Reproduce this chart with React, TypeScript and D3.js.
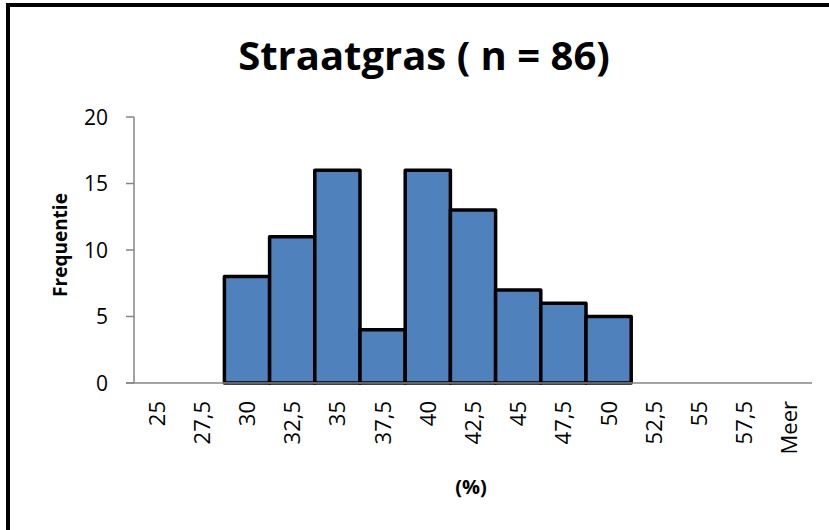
import React from "react";
import * as d3 from "d3";

const categories = ["25", "27,5", "30", "32,5", "35", "37,5", "40", "42,5", "45", "47,5", "50", "52,5", "55", "57,5", "Meer"];
const frequencies = [0, 0, 8, 11, 16, 4, 16, 13, 7, 6, 5, 0, 0, 0, 0];
const yTicks = [0, 5, 10, 15, 20];
const title = "Straatgras ( n = 86)";
const yTitle = "Frequentie";
const xTitle = "(%)";

const W = 829;
const H = 530;
const plot = { left: 134, right: 812, top: 117, bottom: 383 };
const FONT = "'Open Sans', 'Noto Sans', sans-serif";

export default function App() {
  React.useEffect(() => {
    document.body.style.margin = "0";
  }, []);

  const x = d3.scaleBand<string>().domain(categories).range([plot.left, plot.right]).padding(0);
  const y = d3.scaleLinear().domain([0, 20]).range([plot.bottom, plot.top]);
  const axisColor = "#868686";

  return (
    <svg width={W} height={H} style={{ display: "block", background: "#fff" }}>
      <rect x={8} y={5} width={900} height={700} fill="#fff" stroke="#000" strokeWidth={4} />
      <text x={424} y={70} textAnchor="middle" fontFamily={FONT} fontWeight="bold" fontSize={40} fill="#000">
        {title}
      </text>
      {/* bars */}
      {categories.map((c, i) =>
        frequencies[i] > 0 ? (
          <rect
            key={c}
            x={x(c)!}
            y={y(frequencies[i])}
            width={x.bandwidth()}
            height={y(0) - y(frequencies[i])}
            fill="#4F81BD"
            stroke="#000"
            strokeWidth={3.5}
            strokeLinejoin="round"
          />
        ) : null
      )}
      {/* y axis */}
      <line x1={plot.left} x2={plot.left} y1={plot.top} y2={plot.bottom} stroke={axisColor} strokeWidth={1.5} />
      {yTicks.map((t) => (
        <g key={t}>
          <line x1={plot.left - 8} x2={plot.left} y1={y(t)} y2={y(t)} stroke={axisColor} strokeWidth={1.5} />
          <text x={108} y={y(t)} dy="0.36em" textAnchor="end" fontFamily={FONT} fontSize={21} fill="#000">
            {t}
          </text>
        </g>
      ))}
      {/* x axis */}
      <line x1={plot.left - 8} x2={plot.right} y1={plot.bottom} y2={plot.bottom} stroke={axisColor} strokeWidth={1.5} />
      {categories.map((c) => {
        const cx = x(c)! + x.bandwidth() / 2 + 8;
        return (
          <text
            key={c}
            transform={`translate(${cx},${401}) rotate(-90)`}
            textAnchor="end"
            fontFamily={FONT}
            fontSize={22}
            fill="#000"
          >
            {c}
          </text>
        );
      })}
      <text
        transform={`translate(67,245) rotate(-90)`}
        textAnchor="middle"
        fontFamily={FONT}
        fontWeight="bold"
        fontSize={19}
        fill="#000"
      >
        {yTitle}
      </text>
      <text x={471} y={494} textAnchor="middle" fontFamily={FONT} fontWeight="bold" fontSize={20} fill="#000">
        {xTitle}
      </text>
    </svg>
  );
}
